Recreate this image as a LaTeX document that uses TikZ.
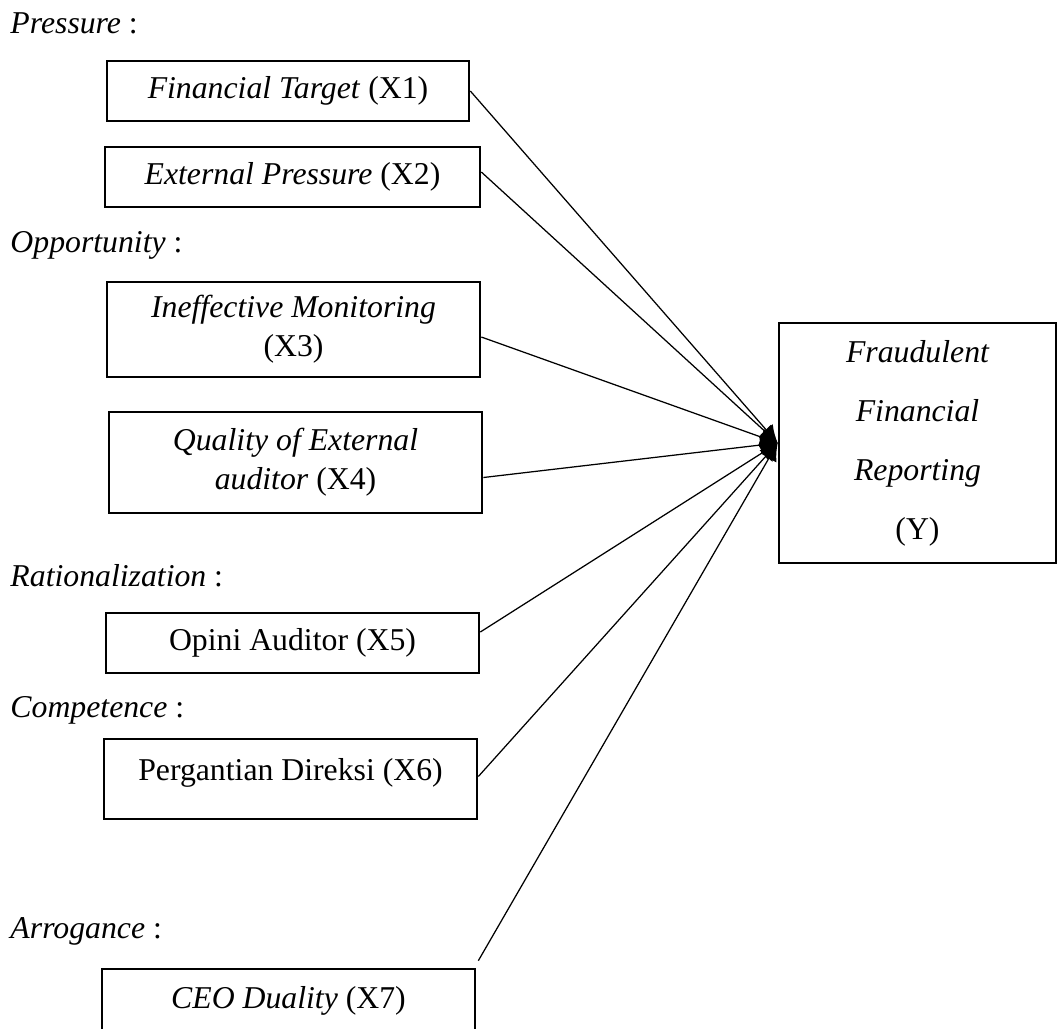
\documentclass[tikz,border=0pt]{standalone}
\usepackage{fontspec}
\setmainfont{Liberation Serif}
\usetikzlibrary{arrows.meta}

\begin{document}
\begin{tikzpicture}[x=0.4pt,y=-0.4pt]
            \tikzset{var/.style = {shape=rectangle, draw, line width=1.05pt, align=center, inner sep=0pt, font=\fontsize{12.7}{15.6}\selectfont}}
            \tikzset{group/.style = {anchor=base west, inner sep=0pt, font=\fontsize{12.7}{15.6}\selectfont\itshape}}
            \tikzset{edge/.style = {draw=black, line width=0.5pt, -{Latex[length=7pt,width=7pt]}}}
            \useasboundingbox (0,0) rectangle (1057,1028);
            % group labels
            \node[group] (pres) at (10,33) {Pressure \upshape:};
            \node[group] (opp) at (10,252) {Opportunity \upshape:};
            \node[group] (rat) at (10,586) {Rationalization \upshape:};
            \node[group] (comp) at (10,717) {Competence \upshape:};
            \node[group] (arr) at (10,938) {Arrogance \upshape:};
            % variables
            \node[var, minimum width=144.8pt, minimum height=24pt] (X1) at (288,91) {\textit{Financial Target} (X1)};
            \node[var, minimum width=150pt, minimum height=24pt] (X2) at (292.5,177) {\textit{External Pressure} (X2)};
            \node[var, minimum width=149.2pt, minimum height=38pt] (X3) at (293.5,329.5) {\textit{Ineffective Monitoring}\\(X3)};
            \node[var, minimum width=149.2pt, minimum height=40.4pt] (X4) at (295.5,462.5) {\textit{Quality of External}\\\textit{auditor} (X4)};
            \node[var, minimum width=149.2pt, minimum height=24pt] (X5) at (292.5,643) {Opini Auditor (X5)};
            \node[var, minimum width=149.2pt, minimum height=32pt, text depth=8pt] (X6) at (290.5,779) {Pergantian Direksi (X6)};
            \node[var, minimum width=149.2pt, minimum height=25.2pt] (X7) at (288.5,1000.5) {\textit{CEO Duality} (X7)};
            \node[var, minimum width=110.8pt, minimum height=96pt, font=\fontsize{12.7}{23.6}\selectfont\itshape] (Y) at (917.5,443) {Fraudulent\\Financial\\Reporting\\\upshape(Y)};
            \coordinate (x7end) at ([xshift=0.8pt,yshift=2.8pt]X7.north east);
            % edges
            \draw[edge] (X1.east) to (Y.west);
            \draw[edge] ([yshift=2pt]X2.east) to (Y.west);
            \draw[edge] ([yshift=-3pt]X3.east) to (Y.west);
            \draw[edge] ([yshift=-6pt]X4.east) to (Y.west);
            \draw[edge] ([yshift=4.4pt]X5.east) to (Y.west);
            \draw[edge] ([yshift=1pt]X6.east) to (Y.west);
            \draw[edge] (x7end) to (Y.west);
        \end{tikzpicture}
\end{document}
